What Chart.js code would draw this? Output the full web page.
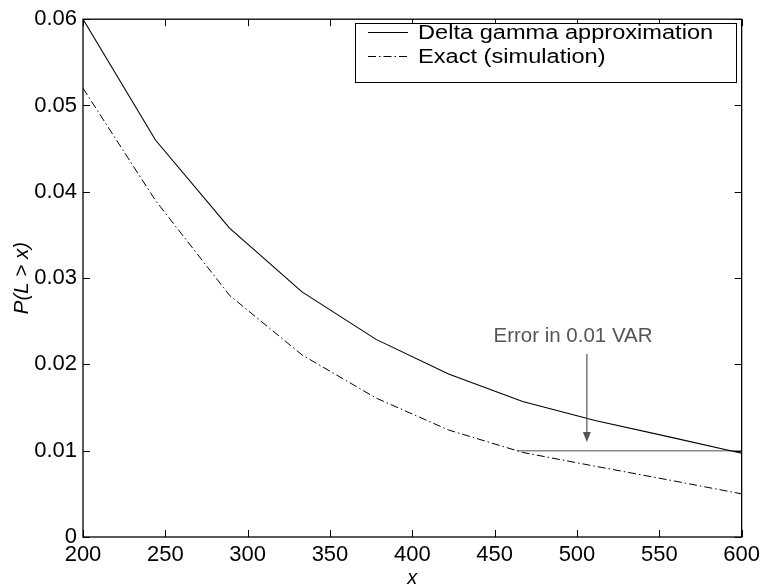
<!DOCTYPE html>
<html>
<head>
<meta charset="utf-8">
<script src="https://cdn.jsdelivr.net/npm/chart.js@4.4.1/dist/chart.umd.min.js"></script>
<style>
  html, body { margin: 0; padding: 0; background: #fff; }
  #wrap { width: 765px; height: 584px; }
</style>
</head>
<body>
<div id="wrap"><canvas id="c" width="765" height="584"></canvas></div>
<script>
// ---- data ----
const xValues    = [200, 244, 289, 333, 378, 422, 467, 511, 556, 600];
const deltaGamma = [0.0600, 0.0460, 0.0358, 0.0284, 0.0229, 0.0189, 0.0157, 0.0135, 0.0116, 0.0097];
const exactSim   = [0.0520, 0.0390, 0.0280, 0.0211, 0.0161, 0.0124, 0.0098, 0.0082, 0.0066, 0.0050];
const seriesLabels = ['Delta gamma approximation', 'Exact (simulation)'];
const errorLineX = [463.6, 600];
const errorLineY = [0.01, 0.01];
const arrowX = 506;
const arrowFromY = 0.0212;
const arrowToY = 0.0110;
const noteText = 'Error in 0.01 VAR';
const noteX = 497.6;
const noteY = 0.0226;
const xTicks = [200, 250, 300, 350, 400, 450, 500, 550, 600];
const yTicks = [0, 0.01, 0.02, 0.03, 0.04, 0.05, 0.06];

const FONT = '"Liberation Sans", Arial, Helvetica, sans-serif';
const toPts = (xs, ys) => xs.map((x, i) => ({ x: x, y: ys[i] }));

const boxPlugin = {
  id: 'boxTicks',
  afterDraw(chart) {
    const ctx = chart.ctx, a = chart.chartArea;
    const xs = chart.scales.x, ys = chart.scales.y;
    ctx.save();
    ctx.strokeStyle = '#000';
    ctx.lineWidth = 1.3;
    ctx.strokeRect(a.left, a.top, a.right - a.left, a.bottom - a.top);
    ctx.lineWidth = 1;
    const L = 7;
    ctx.beginPath();
    xs.ticks.forEach(t => {
      const px = Math.round(xs.getPixelForValue(t.value)) + 0.5;
      ctx.moveTo(px, a.bottom); ctx.lineTo(px, a.bottom - L);
      ctx.moveTo(px, a.top); ctx.lineTo(px, a.top + L);
    });
    ys.ticks.forEach(t => {
      const py = Math.round(ys.getPixelForValue(t.value)) + 0.5;
      ctx.moveTo(a.left, py); ctx.lineTo(a.left + L, py);
      ctx.moveTo(a.right, py); ctx.lineTo(a.right - L, py);
    });
    ctx.stroke();

    // annotation arrow + text
    const ax = xs.getPixelForValue(arrowX);
    const ay0 = ys.getPixelForValue(arrowFromY);
    const ay1 = ys.getPixelForValue(arrowToY);
    ctx.strokeStyle = '#555';
    ctx.fillStyle = '#555';
    ctx.lineWidth = 1.2;
    ctx.beginPath();
    ctx.moveTo(ax, ay0); ctx.lineTo(ax, ay1 - 8);
    ctx.stroke();
    ctx.beginPath();
    ctx.moveTo(ax - 4, ay1 - 10); ctx.lineTo(ax + 4, ay1 - 10); ctx.lineTo(ax, ay1);
    ctx.closePath(); ctx.fill();
    ctx.font = '20.5px ' + FONT;
    ctx.textAlign = 'center';
    ctx.textBaseline = 'alphabetic';
    ctx.fillText(noteText, xs.getPixelForValue(noteX), ys.getPixelForValue(noteY));

    // legend box
    const lx = 355, ly = 23, lw = 381, lh = 59;
    ctx.fillStyle = '#fff';
    ctx.fillRect(lx, ly, lw, lh);
    ctx.strokeStyle = '#000';
    ctx.lineWidth = 1;
    ctx.strokeRect(lx + 0.5, ly + 0.5, lw, lh);
    const rows = [32, 56];
    [0, 1].forEach(i => {
      const ds = chart.data.datasets[i];
      ctx.strokeStyle = ds.borderColor;
      ctx.lineWidth = ds.borderWidth;
      ctx.setLineDash(ds.borderDash || []);
      ctx.beginPath();
      ctx.moveTo(368, rows[i] + 0.5); ctx.lineTo(408, rows[i] + 0.5);
      ctx.stroke();
      ctx.setLineDash([]);
      ctx.fillStyle = '#000';
      ctx.font = '20px ' + FONT;
      ctx.textAlign = 'left';
      ctx.textBaseline = 'middle';
      ctx.save();
      ctx.translate(418, rows[i] + 1);
      ctx.scale(1.18, 1);
      ctx.fillText(ds.label, 0, 0);
      ctx.restore();
    });
    ctx.restore();
  }
};

new Chart(document.getElementById('c'), {
  type: 'line',
  data: {
    datasets: [
      { label: seriesLabels[0], data: toPts(xValues, deltaGamma), borderColor: '#000', borderWidth: 1.1, pointRadius: 0, tension: 0, fill: false },
      { label: seriesLabels[1], data: toPts(xValues, exactSim), borderColor: '#000', borderWidth: 1, borderDash: [8, 3, 1.5, 3], pointRadius: 0, tension: 0, fill: false },
      { label: 'error', data: toPts(errorLineX, errorLineY), borderColor: '#8a8a8a', borderWidth: 1.6, pointRadius: 0, fill: false }
    ]
  },
  options: {
    responsive: false,
    animation: false,
    layout: { padding: { left: 0, top: 16, right: 22, bottom: 0 } },
    plugins: { legend: { display: false }, tooltip: { enabled: false } },
    scales: {
      x: {
        type: 'linear', min: 200, max: 600,
        afterBuildTicks: s => { s.ticks = xTicks.map(v => ({ value: v })); },
        afterFit: s => { s.height = 47; },
        grid: { display: false, drawTicks: false },
        border: { display: false },
        ticks: { color: '#000', padding: 5, maxRotation: 0, font: { family: FONT, size: 22 } },
        title: { display: true, text: 'x', color: '#000', padding: { top: 0, bottom: -6 }, font: { family: FONT, size: 20, style: 'italic' } }
      },
      y: {
        type: 'linear', min: 0, max: 0.06,
        afterBuildTicks: s => { s.ticks = yTicks.map(v => ({ value: v })); },
        afterFit: s => { s.width = 83; },
        grid: { display: false, drawTicks: false },
        border: { display: false },
        ticks: { color: '#000', padding: 6, font: { family: FONT, size: 22 },
          callback: v => v === 0 ? '0' : v.toFixed(2) },
        title: { display: true, text: 'P(L > x)', color: '#000', padding: { top: 10, bottom: 0 }, font: { family: FONT, size: 20.5, style: 'italic' } }
      }
    }
  },
  plugins: [boxPlugin]
});
</script>
</body>
</html>
